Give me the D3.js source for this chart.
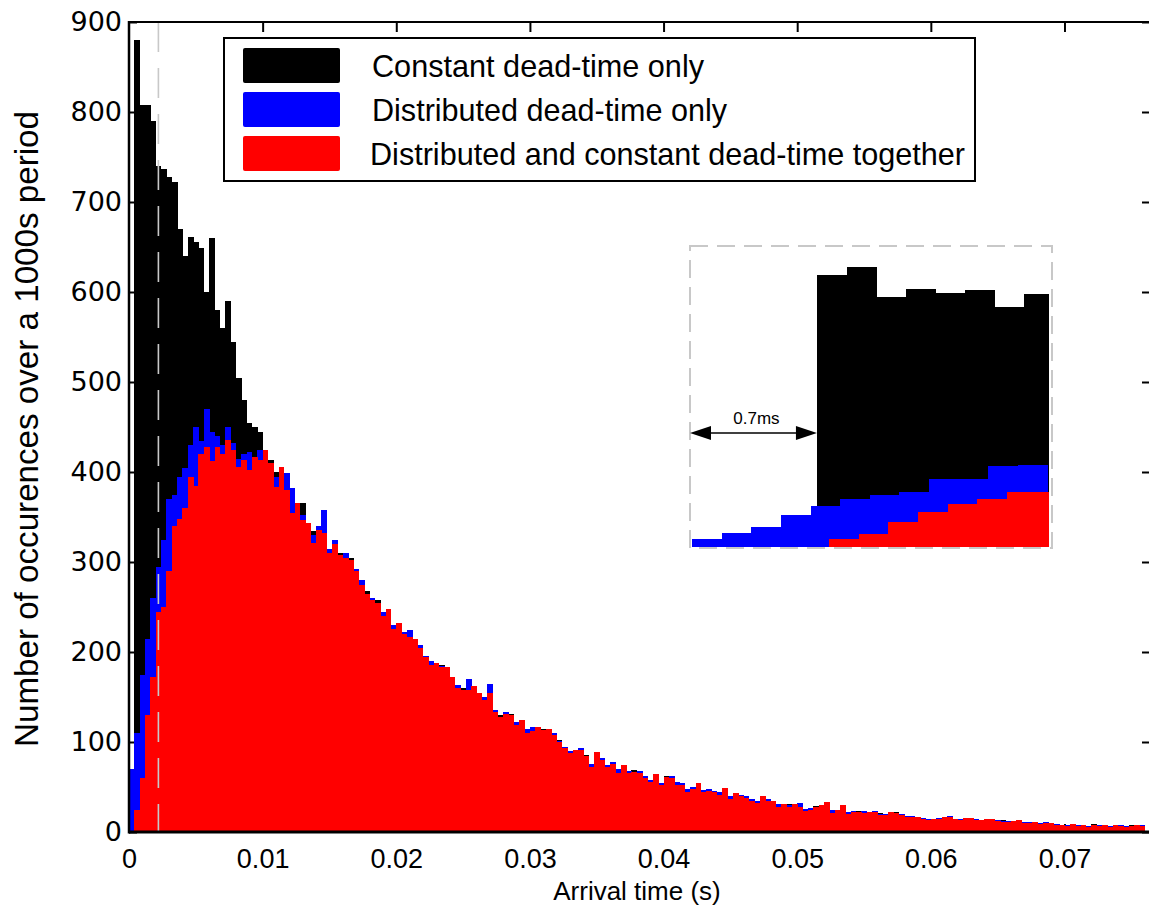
<!DOCTYPE html>
<html lang="en">
<head>
<meta charset="UTF-8">
<title>Arrival time histogram</title>
<script src="https://d3js.org/d3.v7.min.js"></script>
<style>
  body { margin: 0; background: #fff; }
  text { font-family: "Liberation Sans", Arial, sans-serif; fill: #000; }
</style>
</head>
<body>
<script>
  // histogram bins of the main plot (s)
  const binWidth = 0.0004;

  // black: constant dead-time only
  const constantOnly = [
    0, 880, 808, 808, 790, 740, 737, 728, 722, 670,
    640, 661, 656, 649, 600, 660, 580, 560, 590, 545,
    505, 480, 455, 450, 445, 425, 413, 400, 395, 385,
    375, 362, 366, 340, 335, 336, 340, 312,
    318, 310, 302, 305, 288, 276, 268, 256, 258, 242,
    244, 228, 230, 218, 220, 212, 206, 192, 188, 185,
    186, 180, 170, 162, 160, 156, 160, 152, 150, 150,
    135, 130, 128, 131, 120, 122, 112, 110,
    114, 115, 112, 106, 102, 92, 90, 89, 92, 86, 74, 87, 79, 75, 74, 68,
    72, 67, 69, 64, 61, 57, 63, 54, 62, 59,
    54, 50, 47, 49, 51, 46, 47, 44, 43, 48,
    39, 42, 39, 39, 36, 33, 38, 36, 33, 30,
    30, 31, 28, 30, 25, 26, 29, 28, 30, 23,
    25, 27, 21, 22, 23, 22, 20, 21, 21, 19,
    20, 22, 18, 18, 16, 17, 15, 14, 14, 16,
    15, 17, 15, 13, 15, 14, 14, 13, 12, 14,
    12, 13, 11, 11, 12, 11, 10, 11, 10, 9,
    10, 9, 8, 8, 8, 8, 8, 7, 9, 7,
    8, 7, 7, 7, 7, 8, 7, 8
  ];

  // blue: distributed dead-time only
  const distributedOnly = [
    70, 110, 175, 215, 260, 295, 325, 370, 375, 395,
    405, 430, 450, 435, 470, 445, 440, 430, 450, 432,
    415, 420, 422, 415, 424, 420, 405, 395, 400, 399,
    382, 360, 352, 340, 330, 340, 358, 315,
    325, 306, 310, 300, 292, 280, 262, 260, 252, 245,
    246, 230, 228, 222, 224, 210, 208, 196, 190, 186,
    185, 178, 170, 163, 156, 170, 158, 153, 150, 165,
    136, 126, 133, 128, 122, 120, 114, 117,
    115, 112, 114, 110, 101, 95, 90, 88, 93, 84, 76, 86, 82, 74, 78, 70,
    73, 68, 66, 68, 62, 58, 63, 55, 60, 62,
    56, 54, 48, 50, 52, 47, 48, 46, 44, 47,
    40, 42, 41, 40, 37, 34, 39, 37, 35, 31,
    30, 30, 29, 32, 26, 27, 27, 29, 31, 24,
    23, 28, 22, 23, 21, 23, 21, 23, 20, 20,
    21, 20, 20, 18, 18, 16, 16, 15, 14, 16,
    16, 18, 15, 14, 15, 15, 14, 12, 13, 15,
    13, 12, 12, 11, 12, 11, 11, 10, 10, 11,
    9, 9, 8, 8, 8, 8, 7, 7, 7, 8,
    7, 7, 7, 8, 7, 7, 6, 8
  ];

  // red: distributed and constant dead-time together
  const bothTogether = [
    0, 25, 60, 130, 172, 245, 250, 290, 340, 348,
    360, 394, 385, 420, 428, 412, 428, 420, 436, 424,
    406, 413, 402, 417, 413, 424, 410, 383, 406, 380,
    354, 366, 347, 343, 321, 336, 332, 310,
    320, 308, 305, 302, 290, 275, 265, 258, 255, 240,
    248, 226, 232, 220, 217, 214, 204, 195, 186, 188,
    183, 183, 172, 160, 158, 158, 162, 155, 147, 154,
    133, 128, 131, 130, 119, 125, 110, 112,
    117, 113, 115, 108, 100, 93, 88, 91, 91, 85, 72, 89, 80, 72, 76, 66,
    75, 66, 67, 66, 60, 56, 65, 52, 61, 60,
    52, 52, 45, 48, 54, 45, 46, 45, 41, 49,
    37, 43, 40, 38, 35, 32, 40, 35, 34, 28,
    31, 28, 31, 28, 23, 25, 28, 30, 33, 21,
    24, 30, 20, 22, 22, 21, 22, 22, 19, 19,
    22, 21, 19, 17, 17, 17, 14, 13, 15, 15,
    17, 17, 14, 13, 16, 16, 13, 13, 14, 14,
    12, 11, 11, 12, 13, 10, 10, 11, 9, 10,
    10, 8, 8, 7, 9, 7, 8, 6, 8, 7,
    8, 6, 8, 7, 6, 7, 8, 7
  ];

  const seriesNames = ["Constant dead-time only", "Distributed dead-time only", "Distributed and constant dead-time together"];
  const seriesColors = ["#000000", "#0000ff", "#ff0000"];
  const xTicks = [0, 0.01, 0.02, 0.03, 0.04, 0.05, 0.06, 0.07];
  const yTicks = [0, 100, 200, 300, 400, 500, 600, 700, 800, 900];

  // zoomed inset over the first 2 ms
  const insetEdge = 0.0022;          // grey dashed line in the main plot
  const deadTime = 0.0007;           // 0.7ms arrow
  const insetBinWidth = 0.000166;
  const insetStarts = [0.0007, 0, 0.000768];
  const insetConstant = [868, 894, 798, 823, 811, 820, 766, 807];
  const insetDistributed = [26, 45, 64, 102, 131, 153, 166, 176, 217, 217, 259, 262];
  const insetBoth = [26, 41, 80, 112, 137, 153, 176, 176];

  const width = 1149, height = 913;
  const svg = d3.select("body").append("svg")
          .attr("width", width)
          .attr("height", height);

  const x = d3.scaleLinear().domain([0, 0.0764]).range([129, 1150]);
  const y = d3.scaleLinear().domain([0, 900]).range([832, 22]);

  // axes (ticks inside, drawn under the bars)
  svg.append("g")
          .attr("transform", `translate(0,${y(0)})`)
          .call(d3.axisBottom(x).tickValues(xTicks).tickSizeInner(-8).tickSizeOuter(0).tickPadding(17)
                  .tickFormat(d => d === 0 ? "0" : d3.format(".2f")(d)))
          .call(g => g.select(".domain").remove())
          .call(g => g.selectAll("text").attr("font-size", 27).attr("fill", "#000"));
  svg.append("g")
          .attr("transform", `translate(0,${y(900)})`)
          .call(d3.axisTop(x).tickValues(xTicks.slice(1)).tickSizeInner(-10).tickSizeOuter(0).tickFormat(""))
          .call(g => g.select(".domain").remove());
  svg.append("g")
          .attr("transform", `translate(${x.range()[0]},0)`)
          .call(d3.axisLeft(y).tickValues(yTicks).tickSizeInner(-8).tickSizeOuter(0).tickPadding(7))
          .call(g => g.select(".domain").remove())
          .call(g => g.selectAll("text").attr("font-size", 27).attr("fill", "#000")
                  .style("font-family", "'DejaVu Sans', Verdana, sans-serif"));
  svg.append("g")
          .attr("transform", `translate(${x.range()[1]},0)`)
          .call(d3.axisRight(y).tickValues(yTicks).tickSizeInner(-8).tickSizeOuter(0).tickFormat(""))
          .call(g => g.select(".domain").remove());
  svg.selectAll(".tick line").attr("stroke", "#000").attr("stroke-width", 2);

  // histogram bars: black, then blue, then red on top
  [constantOnly, distributedOnly, bothTogether].forEach((vals, k) => {
    svg.append("g")
            .attr("fill", seriesColors[k])
            .attr("shape-rendering", "crispEdges")
            .selectAll("rect")
            .data(vals)
            .join("rect")
            .attr("x", (d, i) => x(i * binWidth))
            .attr("width", (d, i) => x((i + 1) * binWidth) - x(i * binWidth) + 0.4)
            .attr("y", d => y(d))
            .attr("height", d => y(0) - y(d));
  });

  // grey dashed marker of the zoomed region
  svg.append("line")
          .attr("x1", x(insetEdge)).attr("x2", x(insetEdge))
          .attr("y1", y(900)).attr("y2", y(0))
          .attr("stroke", "#c8c8c8")
          .attr("stroke-width", 1.6)
          .attr("stroke-dasharray", "30,16");

  // frame
  svg.append("line").attr("x1", 129).attr("x2", 1150).attr("y1", y(0)).attr("y2", y(0))
          .attr("stroke", "#000").attr("stroke-width", 3);
  svg.append("line").attr("x1", 129).attr("x2", 1150).attr("y1", y(900)).attr("y2", y(900))
          .attr("stroke", "#000").attr("stroke-width", 2);
  svg.append("line").attr("x1", 129).attr("x2", 129).attr("y1", y(900) - 1).attr("y2", y(0) + 1.5)
          .attr("stroke", "#000").attr("stroke-width", 2.5);

  // axis titles
  svg.append("text")
          .attr("x", 637).attr("y", 900)
          .attr("text-anchor", "middle")
          .attr("font-size", 26)
          .text("Arrival time (s)");
  svg.append("text")
          .attr("transform", "translate(38,429) rotate(-90)")
          .attr("text-anchor", "middle")
          .attr("font-size", 33)
          .attr("textLength", 636)
          .attr("lengthAdjust", "spacingAndGlyphs")
          .text("Number of occurences over a 1000s period");

  // legend
  const legend = svg.append("g");
  legend.append("rect")
          .attr("x", 224).attr("y", 38).attr("width", 751).attr("height", 143)
          .attr("fill", "#fff").attr("stroke", "#000").attr("stroke-width", 2);
  const legendWidths = [332, 355, 595];
  seriesNames.forEach((name, k) => {
    const cy = 65 + k * 44;
    legend.append("rect")
            .attr("x", 243).attr("y", cy - 17).attr("width", 97).attr("height", 35)
            .attr("rx", 2)
            .attr("fill", seriesColors[k]);
    legend.append("text")
            .attr("x", k === 2 ? 370 : 372).attr("y", cy + 12)
            .attr("font-size", 32)
            .attr("textLength", legendWidths[k])
            .attr("lengthAdjust", "spacingAndGlyphs")
            .text(name);
  });

  // inset
  const xi = d3.scaleLinear().domain([0, 0.002]).range([692, 1049]);
  const yi = d3.scaleLinear().domain([0, 900]).range([547, 265]);
  const inset = svg.append("g");
  [insetConstant, insetDistributed, insetBoth].forEach((vals, k) => {
    const start = insetStarts[k];
    inset.append("g")
            .attr("fill", seriesColors[k])
            .attr("shape-rendering", "crispEdges")
            .selectAll("rect")
            .data(vals)
            .join("rect")
            .attr("x", (d, i) => xi(start + i * insetBinWidth))
            .attr("width", (d, i) => xi(Math.min(start + (i + 1) * insetBinWidth, 0.002)) - xi(start + i * insetBinWidth) + 0.4)
            .attr("y", d => yi(d))
            .attr("height", d => yi(0) - yi(d));
  });
  inset.append("rect")
          .attr("x", 690).attr("y", 246).attr("width", 362).attr("height", 302)
          .attr("fill", "none")
          .attr("stroke", "#c8c8c8")
          .attr("stroke-width", 2)
          .attr("stroke-dasharray", "18,9");

  // 0.7ms arrow
  const ay = 433, ax0 = 690, ax1 = xi(deadTime);
  inset.append("line").attr("x1", ax0 + 10).attr("x2", ax1 - 10).attr("y1", ay).attr("y2", ay)
          .attr("stroke", "#000").attr("stroke-width", 1.5);
  inset.append("path")
          .attr("d", `M${ax0},${ay} L${ax0 + 21},${ay - 7} L${ax0 + 21},${ay + 7} Z`)
          .attr("fill", "#000");
  inset.append("path")
          .attr("d", `M${ax1},${ay} L${ax1 - 21},${ay - 7} L${ax1 - 21},${ay + 7} Z`)
          .attr("fill", "#000");
  inset.append("text")
          .attr("x", (ax0 + ax1) / 2 + 3).attr("y", 424)
          .attr("text-anchor", "middle")
          .attr("font-size", 17)
          .text("0.7ms");
</script>
</body>
</html>
